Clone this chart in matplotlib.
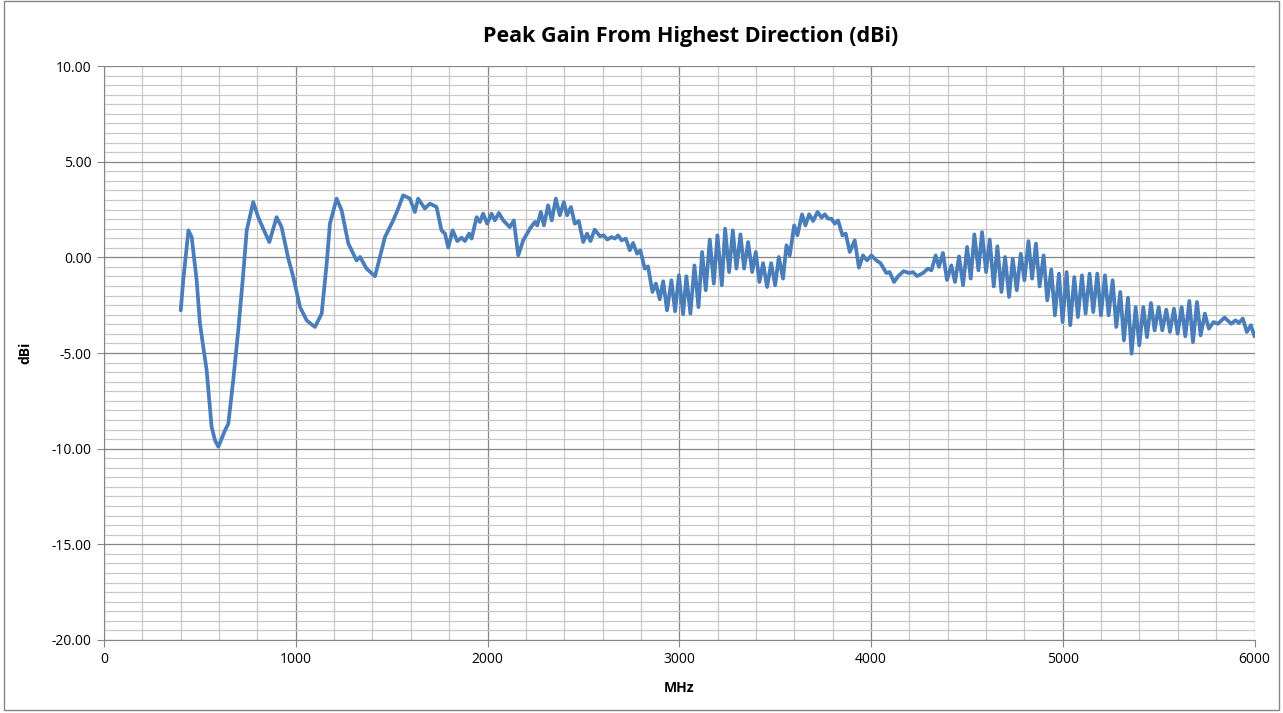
import numpy as np
import matplotlib.pyplot as plt
from matplotlib.patches import Rectangle
from matplotlib.ticker import MultipleLocator, FormatStrFormatter

# frequency (MHz) and peak gain (dBi)
freq = [400, 413, 440, 457, 483, 500, 535, 561, 579, 596, 631, 648, 674, 700, 726, 744,
        778, 804, 830, 862, 900, 926, 961, 987, 1022, 1057, 1100, 1135, 1161, 1178, 1213,
        1239, 1274, 1317, 1335, 1369, 1413, 1430, 1465, 1508, 1534, 1560, 1595, 1621, 1638,
        1673, 1699, 1734, 1760, 1778, 1795, 1818, 1842, 1865, 1882, 1904, 1917, 1943, 1960,
        1977, 1998, 2021, 2038, 2059, 2082, 2116, 2137, 2160, 2186, 2221, 2247, 2259, 2278,
        2294, 2316, 2335, 2356, 2377, 2398, 2415, 2435, 2455, 2476, 2499, 2519, 2537, 2559,
        2586, 2606, 2624, 2647, 2664, 2681, 2699, 2721, 2742, 2759, 2780, 2797, 2820, 2837,
        2860, 2878, 2898, 2916, 2936, 2959, 2978, 2998, 3020, 3037, 3058, 3079, 3100, 3119,
        3138, 3159, 3180, 3199, 3222, 3239, 3260, 3279, 3298, 3319, 3338, 3359, 3380, 3399,
        3418, 3437, 3458, 3479, 3500, 3519, 3541, 3559, 3576, 3599, 3616, 3640, 3658, 3677,
        3698, 3721, 3742, 3759, 3776, 3793, 3811, 3828, 3851, 3868, 3889, 3915, 3937, 3958,
        3979, 4002, 4028, 4049, 4080, 4097, 4120, 4141, 4170, 4198, 4219, 4240, 4271, 4297,
        4315, 4337, 4354, 4375, 4396, 4419, 4438, 4459, 4480, 4501, 4520, 4539, 4560, 4579,
        4600, 4619, 4640, 4659, 4680, 4699, 4720, 4739, 4760, 4781, 4800, 4821, 4840, 4860,
        4879, 4900, 4919, 4940, 4959, 4980, 4999, 5020, 5039, 5060, 5079, 5100, 5119, 5140,
        5159, 5180, 5199, 5220, 5239, 5260, 5279, 5300, 5319, 5340, 5359, 5380, 5399, 5420,
        5439, 5460, 5479, 5500, 5519, 5540, 5559, 5580, 5599, 5620, 5639, 5660, 5679, 5700,
        5719, 5741, 5762, 5786, 5809, 5844, 5879, 5901, 5918, 5939, 5960, 5981, 6000]

gain = [-2.77, -1.2, 1.41, 1.06, -1.2, -3.45, -5.9, -8.87, -9.57, -9.9, -9.04, -8.7, -6.4,
        -3.8, -0.85, 1.41, 2.89, 2.1, 1.5, 0.8, 2.1, 1.58, -0.07, -1.03, -2.6, -3.3, -3.64,
        -2.94, -0.33, 1.76, 3.07, 2.46, 0.72, -0.16, 0.02, -0.59, -0.99, -0.33, 1.06, 1.93,
        2.55, 3.24, 3.07, 2.37, 3.07, 2.55, 2.81, 2.63, 1.41, 1.24, 0.51, 1.41, 0.85, 1.03,
        0.85, 1.24, 0.98, 2.1, 1.85, 2.28, 1.76, 2.28, 1.93, 2.32, 1.93, 1.58, 1.93, 0.1,
        0.89, 1.5, 1.85, 1.67, 2.37, 1.67, 2.72, 1.93, 3.07, 2.2, 2.89, 2.2, 2.63, 1.76,
        1.9, 0.8, 1.24, 0.85, 1.45, 1.1, 1.15, 0.93, 1.06, 0.98, 1.15, 0.89, 0.98, 0.37,
        0.75, 0.19, 0.37, -0.59, -0.47, -1.81, -1.37, -2.2, -1.25, -2.77, -1.2, -2.82,
        -0.94, -2.98, -0.99, -2.94, -0.42, -2.6, 0.28, -1.72, 0.93, -1.37, 1.15, -1.46, 1.5,
        -0.77, 1.41, -0.59, 1.2, -0.59, 0.8, -0.77, 0.28, -1.29, -0.3, -1.55, -0.3, -1.46,
        0.02, -1.11, 0.63, 0.1, 1.67, 1.15, 2.25, 1.67, 2.25, 1.9, 2.37, 2.08, 2.25, 2.02,
        2.02, 1.76, 1.93, 1.15, 1.24, 0.28, 0.89, -0.54, 0.1, -0.16, 0.1, -0.16, -0.3,
        -0.82, -0.77, -1.29, -0.99, -0.72, -0.82, -0.77, -0.98, -0.82, -0.59, -0.68, 0.1,
        -0.5, 0.23, -1.18, -0.42, -1.29, 0.05, -1.46, 0.54, -1.11, 1.2, -0.68, 1.32, -0.77,
        0.93, -1.52, 0.58, -1.81, 0.02, -2.07, -0.07, -1.72, 0.19, -1.2, 0.85, -1.11, 0.72,
        -1.52, 0.1, -2.25, -0.64, -3.03, -0.85, -3.38, -0.77, -3.55, -1.03, -3.12, -0.94,
        -2.94, -0.85, -2.86, -0.85, -3.03, -0.94, -3.03, -1.2, -3.64, -1.81, -4.34, -2.11,
        -5.04, -2.6, -4.6, -2.6, -4.17, -2.39, -3.82, -2.6, -3.82, -2.73, -3.9, -2.68, -3.99,
        -2.6, -4.13, -2.28, -4.43, -2.33, -4.08, -2.94, -3.73, -3.38, -3.47, -3.15, -3.47,
        -3.29, -3.43, -3.2, -3.9, -3.55, -4.13]

plt.rcParams['font.family'] = ['Open Sans', 'DejaVu Sans']

fig = plt.figure(figsize=(12.83, 7.13), dpi=100)
ax = fig.add_axes([0.0811, 0.1024, 0.8967, 0.805])

ax.plot(freq, gain, color='#4a7ebb', linewidth=2.7, solid_joinstyle='round',
        solid_capstyle='round', zorder=3)

ax.set_xlim(0, 6000)
ax.set_ylim(-20, 10)
ax.xaxis.set_major_locator(MultipleLocator(1000))
ax.xaxis.set_minor_locator(MultipleLocator(200))
ax.yaxis.set_major_locator(MultipleLocator(5))
ax.yaxis.set_minor_locator(MultipleLocator(0.5))
ax.yaxis.set_major_formatter(FormatStrFormatter('%.2f'))

ax.grid(which='major', color='#868686', linewidth=0.9)
ax.grid(which='minor', color='#c8c8c8', linewidth=0.9)
ax.set_axisbelow(True)

for s in ['top', 'right']:
    ax.spines[s].set_visible(False)
for s in ['left', 'bottom']:
    ax.spines[s].set_color('#868686')
ax.tick_params(which='major', length=5, color='#868686', labelsize=10, pad=4)
ax.tick_params(which='minor', length=0)

ax.set_xlabel('MHz', fontsize=10, fontweight='bold', labelpad=10)
ax.set_ylabel('dBi', fontsize=10, fontweight='bold', labelpad=14)
fig.text(0.538, 0.949, 'Peak Gain From Highest Direction (dBi)', ha='center', va='center',
         fontsize=15.5, fontweight='bold')

fig.patches.append(Rectangle((0.003, 0.004), 0.994, 0.994, transform=fig.transFigure,
                             fill=False, edgecolor='#868686', linewidth=1))

fig.savefig('out.png', dpi=100)
